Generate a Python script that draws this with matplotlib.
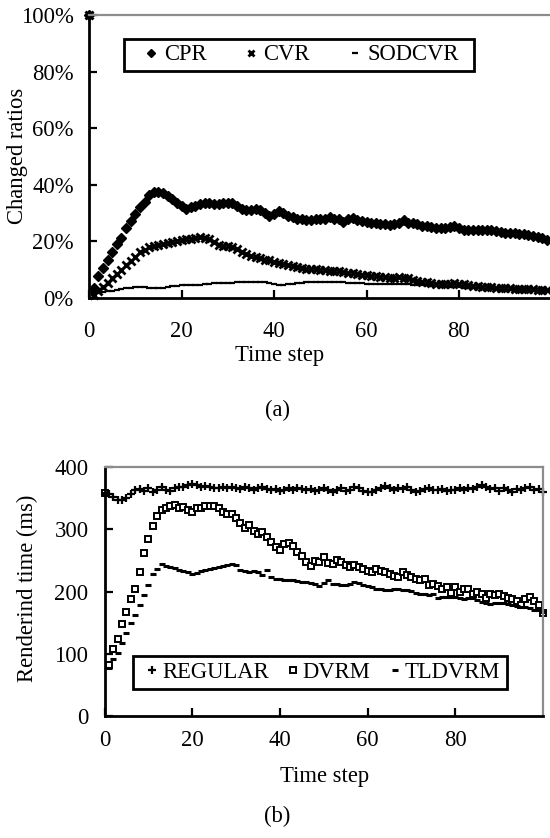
import matplotlib
matplotlib.use("Agg")
import matplotlib.pyplot as plt
from matplotlib.patches import Rectangle
from matplotlib.ticker import PercentFormatter

plt.rcParams['font.family'] = ['Liberation Serif', 'DejaVu Serif']
plt.rcParams['font.size'] = 16.3

# ---- (a) changed ratios, in percent (step 0 is the full frame)
steps_a = list(range(0, 100))
cpr = [100, 3.5, 7.5, 10.5, 13.5, 16, 19, 21, 24.5, 27, 29.5, 32, 34, 36.5, 37.5, 37.5, 37, 36, 35, 33.5, 32.5,
       31.5, 32, 32.5, 33, 33.5, 33.5, 33, 33, 33.5, 33.5, 33.5, 32.5, 31.5, 31, 31, 31.5, 31, 30, 29, 29.5,
       30.5, 30, 29, 28.5, 28, 28, 27.5, 27.5, 28, 28, 28, 28.5, 28, 28, 26.8, 28, 28.2, 27.5, 27, 26.8,
       26.5, 26.5, 26, 26, 25.7, 26, 26.5, 27.4, 26.5, 26.3, 26, 25.5, 25.5, 25, 24.8, 24.5, 24.8, 25, 25.2, 24.5,
       24, 24, 23.8, 24, 24, 23.8, 23.9, 23.5, 23.2, 23, 23, 22.8, 22.7, 22.5, 22.2, 22, 21.5, 21, 20.4]
cvr = [100, 0.8, 2.3, 3.8, 5.3, 6.8, 8.3, 9.8, 11.5, 13, 14.5, 16, 17, 17.8, 18.3, 18.6, 19, 19.3, 19.6, 20, 20.3,
       20.6, 20.8, 21.1, 21.3, 21.2, 20.6, 19.8, 18.8, 18.3, 18.2, 18, 17.2, 16.2, 15.4, 14.9, 14.5, 14, 13.5, 13.2, 12.8,
       12.3, 12, 11.6, 11.2, 10.8, 10.5, 10.3, 10.1, 10, 9.9, 9.8, 9.6, 9.5, 9.3, 9, 8.8, 8.6, 8.4, 8.2, 8,
       7.8, 7.6, 7.4, 7.2, 7.1, 7.1, 7.2, 7.1, 6.8, 6.4, 6, 5.7, 5.4, 5.2, 5, 4.9, 4.9, 5, 5.1, 5,
       4.8, 4.6, 4.3, 4.1, 3.9, 3.8, 3.7, 3.6, 3.5, 3.4, 3.3, 3.2, 3.1, 3.1, 3, 3, 2.9, 2.9, 2.8]
sodcvr = [100, 1.0, 1.5, 1.9, 2.2, 2.5, 2.8, 3.0, 3.3, 3.6, 3.8, 3.9, 3.8, 3.5, 3.3, 3.3, 3.5, 3.7, 4.0, 4.3, 4.5,
          4.5, 4.4, 4.4, 4.5, 4.7, 5.0, 5.2, 5.3, 5.3, 5.2, 5.3, 5.4, 5.5, 5.5, 5.6, 5.6, 5.7, 5.5, 5.2, 4.8,
          4.6, 4.6, 4.8, 5.0, 5.2, 5.3, 5.4, 5.4, 5.5, 5.5, 5.5, 5.6, 5.6, 5.5, 5.4, 5.3, 5.3, 5.2, 5.1, 5.0,
          5.0, 5.0, 5.0, 4.9, 4.9, 4.8, 4.8, 4.8, 4.7, 4.6, 4.6, 4.5, 4.4, 4.3, 4.2, 4.1, 4.0, 3.9, 3.8, 3.7,
          3.6, 3.5, 3.4, 3.3, 3.2, 3.1, 3.0, 3.0, 2.9, 2.8, 2.8, 2.7, 2.6, 2.6, 2.5, 2.5, 2.4, 2.4, 2.3]

# ---- (b) rendering time, ms
steps_b = list(range(0, 101))
regular = [358, 357, 352, 348, 347, 351, 357, 363, 365, 362, 366, 361, 364, 368, 364, 362, 366, 368, 369, 372, 373,
           371, 368, 370, 368, 366, 367, 369, 366, 368, 367, 365, 368, 366, 364, 366, 368, 365, 363, 365, 362,
           364, 366, 363, 367, 365, 363, 365, 362, 364, 366, 363, 361, 364, 366, 362, 364, 369, 366, 362, 360,
           361, 363, 366, 370, 367, 364, 366, 365, 368, 363, 360, 362, 365, 366, 364, 363, 365, 362, 364, 363,
           366, 364, 367, 365, 369, 371, 368, 365, 367, 362, 366, 364, 361, 365, 363, 367, 369, 363, 365, 361]
dvrm = [358, 82, 108, 124, 148, 168, 188, 205, 232, 262, 285, 305, 322, 332, 335, 337, 339, 334, 336, 331, 328,
        334, 335, 337, 338, 337, 334, 328, 325, 325, 318, 311, 302, 307, 298, 293, 296, 288, 280, 272, 267,
        276, 278, 273, 264, 258, 248, 241, 250, 247, 256, 246, 244, 251, 247, 243, 239, 243, 240, 237, 234,
        232, 236, 233, 232, 228, 225, 224, 232, 226, 223, 221, 219, 221, 210, 213, 209, 205, 208, 198, 208,
        200, 204, 205, 196, 200, 196, 190, 196, 195, 196, 193, 189, 188, 185, 179, 188, 192, 185, 179, 166]
tldvrm = [358, 78, 92, 102, 118, 134, 150, 163, 178, 195, 211, 228, 236, 245, 241, 240, 238, 235, 233, 231, 229,
          230, 233, 235, 236, 238, 240, 241, 243, 244, 243, 235, 233, 232, 234, 231, 227, 235, 224, 221, 220,
          219, 219, 218, 217, 216, 215, 214, 212, 209, 214, 218, 213, 212, 211, 210, 213, 216, 214, 211, 209,
          207, 205, 204, 202, 203, 205, 204, 203, 202, 201, 198, 197, 196, 195, 197, 189, 191, 192, 192, 191,
          189, 188, 189, 190, 186, 184, 182, 180, 181, 181, 181, 180, 178, 177, 176, 175, 173, 171, 170, 168]

W, H = 550, 838
fig = plt.figure(figsize=(W / 100, H / 100), dpi=100)
ax1 = fig.add_axes([89 / W, 1 - 297.7 / H, 462.5 / W, 282.7 / H])
ax2 = fig.add_axes([104.5 / W, 1 - 716 / H, 438.5 / W, 248.7 / H])


def style_axes(ax, xpad, ypad):
    for side in ('left', 'bottom'):
        ax.spines[side].set_linewidth(2.0)
        ax.spines[side].set_color('black')
    for side in ('top', 'right'):
        ax.spines[side].set_linewidth(1.6)
        ax.spines[side].set_color('#8c8c8c')
    ax.tick_params(direction='in', length=5.5, width=1.6, top=False, right=False)
    ax.tick_params(axis='x', pad=xpad)
    ax.tick_params(axis='y', pad=ypad)
    ax.set_xlim(0, 100)
    ax.set_xticks([0, 20, 40, 60, 80])


def legend_box(x0, y0, x1, y1):
    # frame drawn separately so its size can follow the original
    fig.add_artist(Rectangle((x0 / W, 1 - y1 / H), (x1 - x0) / W, (y1 - y0) / H,
                             transform=fig.transFigure, fill=False, lw=2.0, ec='black'))


# (a)
ax1.plot(steps_a, cpr, ls='none', marker='D', ms=5, color='black', label='CPR', clip_on=False)
ax1.plot(steps_a, cvr, ls='none', marker='x', ms=5.5, mew=2.0, color='black', label='CVR', clip_on=False)
ax1.plot(steps_a, sodcvr, ls='none', marker='_', ms=4.5, mew=1.6, color='black', label='SODCVR', clip_on=False)
style_axes(ax1, 17, 11)
ax1.set_ylim(0, 100)
ax1.set_yticks([0, 20, 40, 60, 80, 100])
ax1.yaxis.set_major_formatter(PercentFormatter(decimals=0))
ax1.set_xlabel('Time step', va='center')
ax1.xaxis.set_label_coords(0.4125, -0.2035)
ax1.set_ylabel('Changed ratios', va='center')
ax1.yaxis.set_label_coords(-0.1546, 0.502)
ax1.legend(loc='center left', bbox_to_anchor=(144.7 / W, 1 - 55 / H), bbox_transform=fig.transFigure,
           ncol=3, frameon=False, borderpad=0, borderaxespad=0, handlelength=0.6, handletextpad=0.243,
           columnspacing=1.68, markerscale=0.9)
legend_box(123.8, 39.3, 473.5, 71)

# (b)
ax2.plot(steps_b, regular, ls='none', marker='+', ms=6, mew=1.6, color='black', label='REGULAR', clip_on=False)
ax2.plot(steps_b, dvrm, ls='none', marker='s', ms=5, mew=1.4, mfc='white', mec='black', label='DVRM',
         clip_on=False)
ax2.plot(steps_b, tldvrm, ls='none', marker='_', ms=4.5, mew=2.2, color='black', label='TLDVRM', clip_on=False)
style_axes(ax2, 10, 11.5)
ax2.set_ylim(0, 400)
ax2.set_yticks([0, 100, 200, 300, 400])
ax2.set_xlabel('Time step', va='center')
ax2.xaxis.set_label_coords(0.5015, -0.244)
ax2.set_ylabel('Renderind time (ms)', va='center')
ax2.yaxis.set_label_coords(-0.1767, 0.515)
ax2.legend(loc='center left', bbox_to_anchor=(145.2 / W, 1 - 672.5 / H), bbox_transform=fig.transFigure,
           ncol=3, frameon=False, borderpad=0, borderaxespad=0, handlelength=0.6, handletextpad=0.15,
           columnspacing=0.75, markerscale=0.9)
legend_box(133, 656, 507, 689)

fig.text(277 / W, 1 - 410 / H, '(a)', ha='center', va='center')
fig.text(277 / W, 1 - 816.7 / H, '(b)', ha='center', va='center')

fig.savefig('out.png', dpi=100)
